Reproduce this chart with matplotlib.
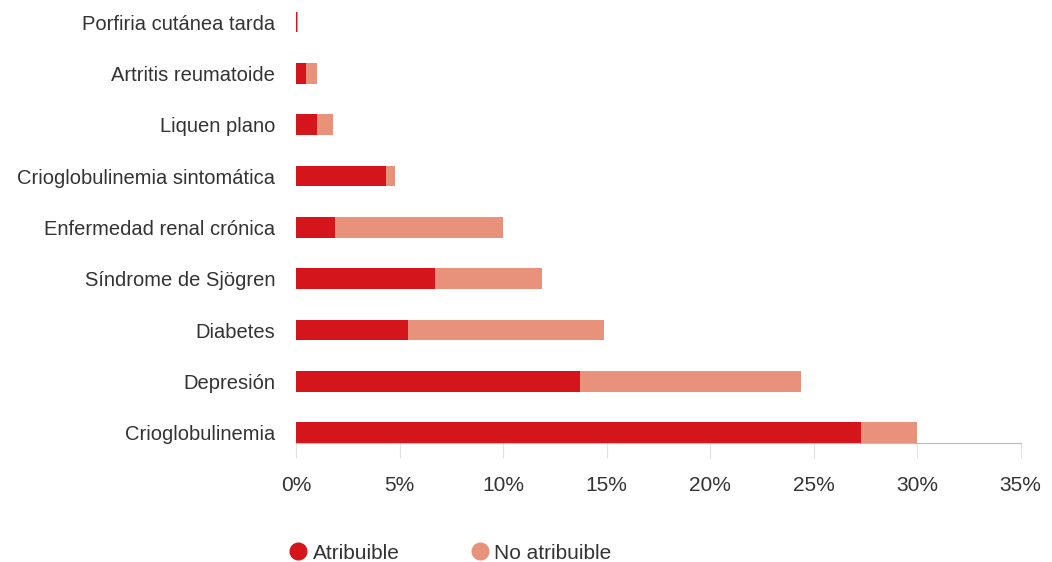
import matplotlib

matplotlib.use('Agg')
import matplotlib.pyplot as plt
from matplotlib.lines import Line2D

# datos (de abajo hacia arriba)
categorias = ['Crioglobulinemia', 'Depresión', 'Diabetes', 'Síndrome de Sjögren',
              'Enfermedad renal crónica', 'Crioglobulinemia sintomática',
              'Liquen plano', 'Artritis reumatoide', 'Porfiria cutánea tarda']
atribuible = [27.3, 13.7, 5.4, 6.7, 1.9, 4.35, 1.0, 0.5, 0.05]
no_atribuible = [2.7, 10.7, 9.5, 5.2, 8.1, 0.45, 0.8, 0.5, 0.05]
ticks = [0, 5, 10, 15, 20, 25, 30, 35]

rojo = '#D4161C'
salmon = '#E9927B'
gris = '#333333'

plt.rcParams['font.family'] = ['Liberation Sans', 'DejaVu Sans']

fig = plt.figure(figsize=(10.52, 5.62), dpi=100)
ax = fig.add_axes([0.2814, 0.2117, 0.6887, 0.7883])

y = range(len(categorias))
ax.barh(y, atribuible, height=0.4, color=rojo)
ax.barh(y, no_atribuible, left=atribuible, height=0.4, color=salmon)

ax.set_xlim(0, 35)
ax.set_ylim(-0.2, 8.43)
ax.set_yticks(list(y))
ax.set_yticklabels(categorias, fontsize=14.5, color=gris)
ax.tick_params(axis='y', length=0, pad=15)
ax.set_xticks(ticks)
ax.set_xticklabels([f'{t}%' for t in ticks], fontsize=15, color=gris)
ax.tick_params(axis='x', length=11, width=0.8, color='#e2e2e2', pad=13)

for s in ['top', 'right', 'left']:
    ax.spines[s].set_visible(False)
ax.spines['bottom'].set_color('#bbbbbb')
ax.spines['bottom'].set_linewidth(0.8)

handles = [Line2D([], [], marker='o', linestyle='', markersize=12, color=rojo),
           Line2D([], [], marker='o', linestyle='', markersize=12, color=salmon)]
fig.legend(handles, ['Atribuible', 'No atribuible'], loc='center left',
           bbox_to_anchor=(0.2546, 0.016), ncol=2, frameon=False, fontsize=15,
           handletextpad=0.15, columnspacing=3.3, handlelength=1.1,
           labelcolor=gris)

fig.savefig('out.png', dpi=100)
